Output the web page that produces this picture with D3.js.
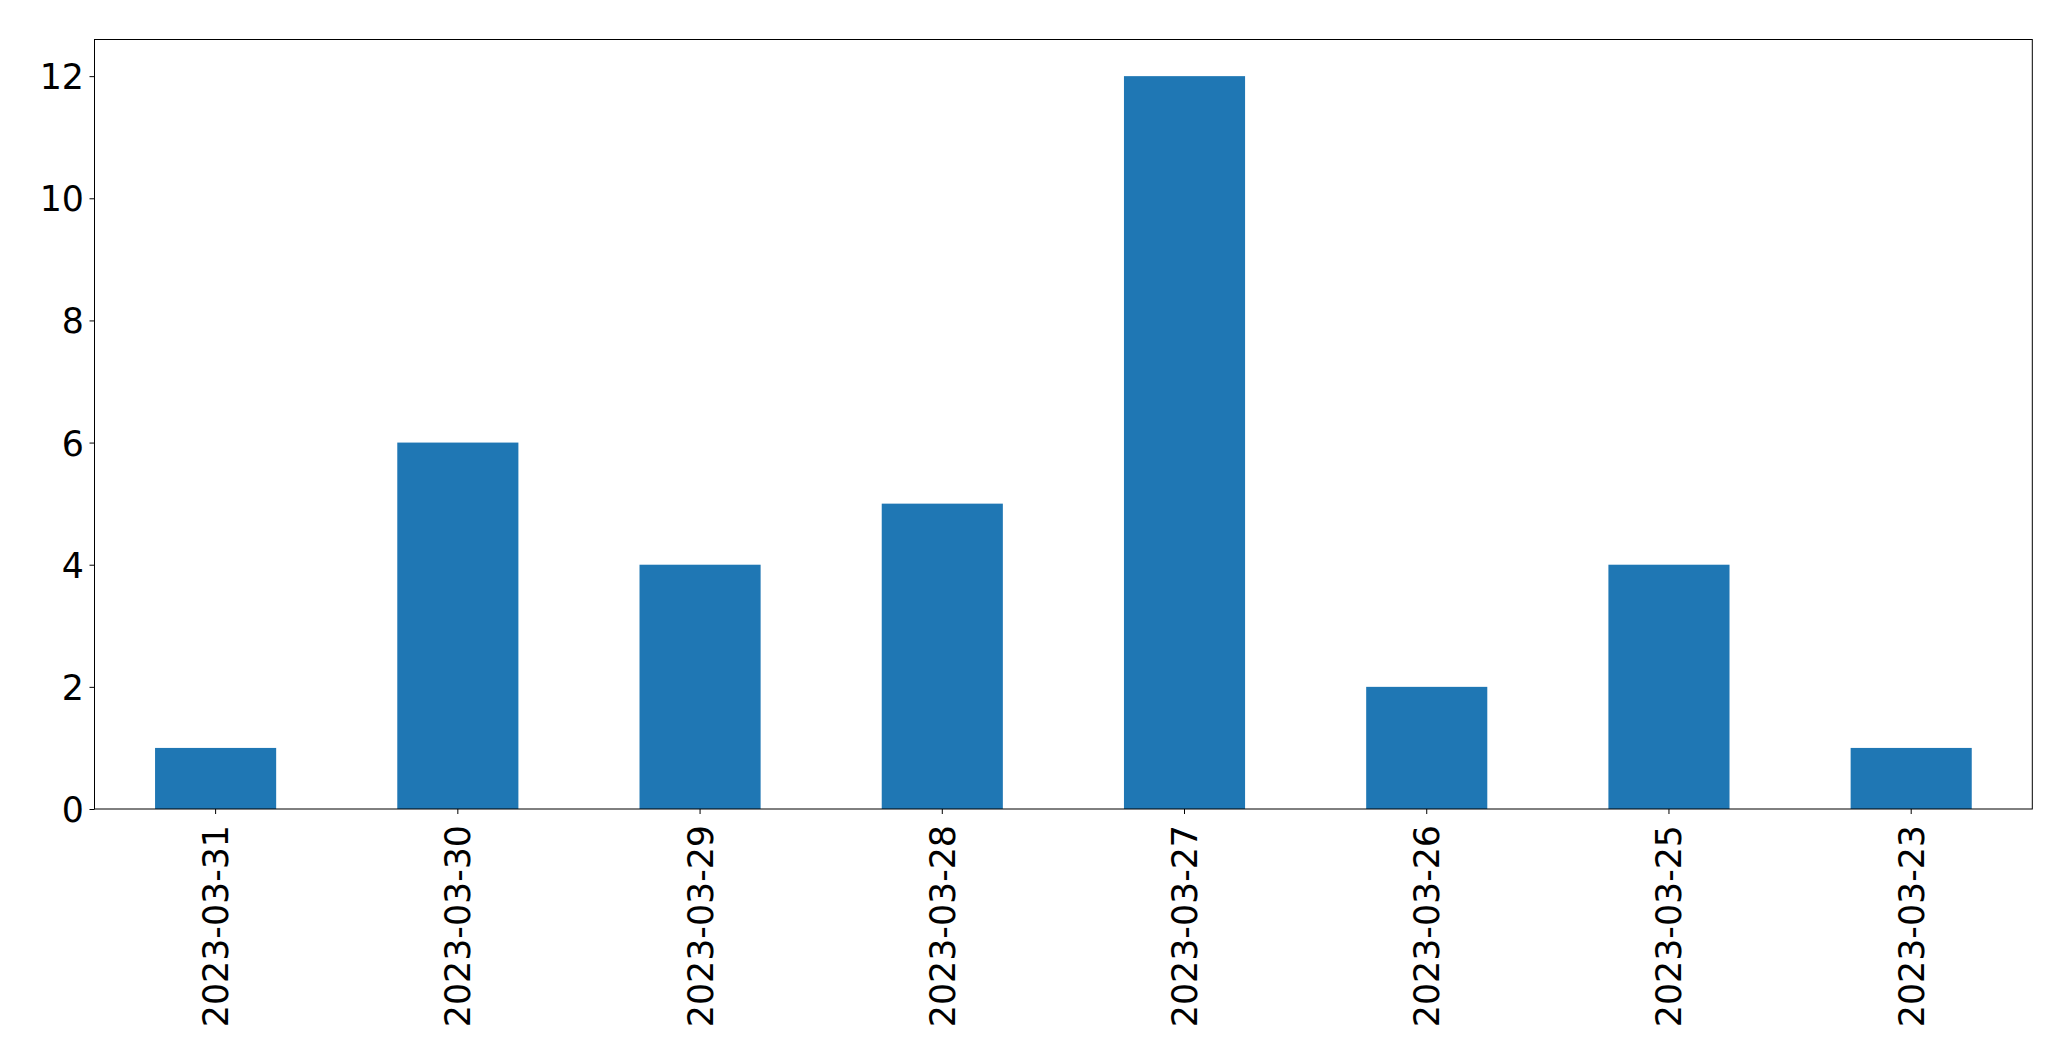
<!DOCTYPE html>
<html>
<head>
<meta charset="utf-8">
<script src="https://cdn.jsdelivr.net/npm/d3@7/dist/d3.min.js"></script>
<style>
  html, body { margin: 0; padding: 0; background: #fff; }
  svg { display: block; }
  text { font-family: "DejaVu Sans", sans-serif; fill: #000; }
</style>
</head>
<body>
<script>
const categories = ["2023-03-31", "2023-03-30", "2023-03-29", "2023-03-28", "2023-03-27", "2023-03-26", "2023-03-25", "2023-03-23"];
const values = [1, 6, 4, 5, 12, 2, 4, 1];
const yTicks = [0, 2, 4, 6, 8, 10, 12];

(function () {
const W = 2071, H = 1061;
const mLeft = 94.5, mRight = 2032.3, mTop = 39.5, mBottom = 809;
const fontSize = 34.8;

const svg = d3.select("body").append("svg").attr("width", W).attr("height", H);

const x = d3.scaleBand().domain(categories).range([mLeft, mRight]).paddingInner(0.5).paddingOuter(0.25);
const y = d3.scaleLinear().domain([0, 12.6]).range([mBottom, mTop]);

svg.append("g").selectAll("rect").data(values).join("rect")
  .attr("x", (d, i) => x(categories[i]))
  .attr("width", x.bandwidth())
  .attr("y", d => y(d))
  .attr("height", d => y(0) - y(d))
  .attr("fill", "#1f77b4");

// Y axis
const yAxis = svg.append("g").attr("transform", `translate(${mLeft},0)`)
  .call(d3.axisLeft(y).tickValues(yTicks).tickSize(5).tickPadding(5.5).tickFormat(d3.format("d")));
yAxis.select(".domain").remove();
yAxis.selectAll("line").attr("stroke", "#000").attr("stroke-width", 1);
yAxis.selectAll("text").attr("font-size", fontSize).attr("font-family", "DejaVu Sans").attr("dy", "0.36em");

// X axis
const xAxis = svg.append("g").attr("transform", `translate(0,${mBottom})`)
  .call(d3.axisBottom(x).tickSize(5).tickPadding(0));
xAxis.select(".domain").remove();
xAxis.selectAll("line").attr("stroke", "#000").attr("stroke-width", 1);
xAxis.selectAll("text")
  .attr("font-size", fontSize).attr("font-family", "DejaVu Sans")
  .attr("text-anchor", "end")
  .attr("x", 0).attr("y", 0).attr("dy", "0.36em")
  .attr("transform", "translate(0,16) rotate(-90)");

// Frame
svg.append("rect").attr("x", mLeft).attr("y", mTop)
  .attr("width", mRight - mLeft).attr("height", mBottom - mTop)
  .attr("fill", "none").attr("stroke", "#000").attr("stroke-width", 1);
})();
</script>
</body>
</html>
